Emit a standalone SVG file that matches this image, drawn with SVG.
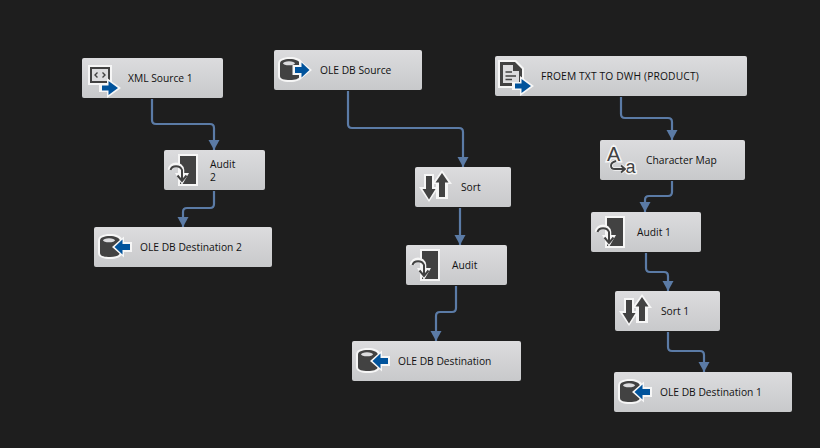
<svg xmlns="http://www.w3.org/2000/svg" width="820" height="448" viewBox="0 0 820 448">
<style>
.n{fill:url(#g)}
.t{font-family:"Open Sans","Noto Sans",sans-serif;font-size:10.25px;fill:#111}
.c{fill:none;stroke:#5b7ba6;stroke-width:2.200;marker-end:url(#a)}
.w{fill:#f6f6f6}
.d{fill:#424242}
.b{fill:#00539c}
.l{fill:#dcdcde}
</style>
<defs>
<linearGradient id="g" x1="0" y1="0" x2="0" y2="1"><stop offset="0" stop-color="#dcdcde"/><stop offset="1" stop-color="#c8c9cb"/></linearGradient>
<marker id="a" markerUnits="userSpaceOnUse" markerWidth="12" markerHeight="12" refX="10" refY="6" orient="auto"><path d="M0 0.500L10 6L0 11.500Z" fill="#5b7ba6"/></marker>
<g id="cyl">
<path class="w" d="M4 14C4 9 9 7 16 7C22 7 27 9 28 12V27C27 30 22 32 16 32C9 32 4 30 4 26Z"/>
<path class="d" d="M6 13.500C6 10.500 10 9 16 9C21 9 25 10.500 26 13.500V26C25 29 21 30 16 30C10 30 6 29 6 26Z"/>
<ellipse class="l" cx="15" cy="13.300" rx="6" ry="2"/>
</g>
<g id="outArrow"><path class="w" d="M18.500 15H25V9.500L38 20L25 30.500V25H18.500Z"/><path class="b" d="M21 17H27.500V12.500L35.500 20L27.500 27.500V23H21Z"/></g>
<g id="inArrow"><path class="w" d="M38 15H30V9.500L18 20L30 30.500V25H38Z"/><path class="b" d="M36 17H28.500V12.500L20.500 20L28.500 27.500V23H36Z"/></g>
<g id="docArrow"><path class="w" d="M17 26H25V20L39 30L25 40V34H17Z"/><path class="b" d="M20 27.500H26.500V23L36 30L26.500 37V32.500H20Z"/></g>
<g id="audit">
<rect class="w" x="14" y="4" width="20" height="32"/>
<rect class="d" x="16" y="6" width="16" height="28"/>
<path d="M6 20C7 13 17 13 18 20L18 27" fill="none" stroke="#f6f6f6" stroke-width="4.500"/>
<path class="w" d="M11 23L25 23L18 35Z"/>
<path d="M6.500 20C8 15 16 15 18 20L18 30" fill="none" stroke="#424242" stroke-width="2"/>
<path d="M13.500 25.500L18 31L22.500 25.500" fill="none" stroke="#424242" stroke-width="2"/>
</g>
<g id="sort">
<path class="w" d="M9 7H19V20H24L14 35L4 20H9Z"/>
<path class="d" d="M11 9H17V22H20.500L14 32.500L7.500 22H11Z"/>
<path class="w" d="M27 3L37 17H33V32H21V17H17Z"/>
<path class="d" d="M27 6L33.500 15.500H30V30H24V15.500H20.500Z"/>
</g>
</defs>
<rect width="820" height="448" fill="#1e1e1e"/>
<g id="connectors">
<path class="c" d="M152 99V120Q152 124 156 124H210Q214 124 214 128V150"/>
<path class="c" d="M214 191V204Q214 208 210 208H187Q183 208 183 212V227"/>
<path class="c" d="M348 91V124Q348 128 352 128H459Q463 128 463 132V167"/>
<path class="c" d="M460 208V245"/>
<path class="c" d="M456 286V308Q456 312 452 312H440Q436 312 436 316V341"/>
<path class="c" d="M621 97V114Q621 118 625 118H668Q672 118 672 122V140"/>
<path class="c" d="M672 181V192Q672 196 668 196H649Q645 196 645 200V212"/>
<path class="c" d="M646 253V268Q646 272 650 272H664Q668 272 668 276V291"/>
<path class="c" d="M668 332V347Q668 351 672 351H700Q704 351 704 355V372"/>
</g>
<g id="xml-source-1"><rect class="n" x="82" y="58" width="141" height="40" rx="2"/>
<rect class="w" x="88" y="65" width="24" height="20"/><rect class="d" x="90" y="67" width="20" height="16"/><rect class="l" x="92" y="69" width="16" height="12"/>
<path d="M97.500 72.500L95 75L97.500 77.500M102.500 72.500L105 75L102.500 77.500" fill="none" stroke="#424242" stroke-width="1.400"/>
<use href="#docArrow" x="82" y="58"/>
<text class="t" x="128" y="82">XML Source 1</text></g>
<g id="audit-2"><rect class="n" x="164" y="150" width="101" height="40" rx="2"/>
<use href="#audit" x="164" y="150"/>
<text class="t" x="210" y="168">Audit</text><text class="t" x="210" y="181">2</text></g>
<g id="ole-db-destination-2"><rect class="n" x="94" y="227" width="178" height="40" rx="2"/>
<use href="#cyl" x="94" y="227"/><use href="#inArrow" x="94" y="227"/>
<text class="t" x="140" y="251">OLE DB Destination 2</text></g>
<g id="ole-db-source"><rect class="n" x="274" y="50" width="148" height="40" rx="2"/>
<use href="#cyl" x="274" y="50"/><use href="#outArrow" x="274" y="50"/>
<text class="t" x="320" y="74">OLE DB Source</text></g>
<g id="sort-node"><rect class="n" x="415" y="167" width="96" height="40" rx="2"/>
<use href="#sort" x="415" y="167"/>
<text class="t" x="461" y="191">Sort</text></g>
<g id="audit-node"><rect class="n" x="406" y="245" width="101" height="40" rx="2"/>
<use href="#audit" x="406" y="245"/>
<text class="t" x="452" y="269">Audit</text></g>
<g id="ole-db-destination"><rect class="n" x="352" y="341" width="169" height="40" rx="2"/>
<use href="#cyl" x="352" y="341"/><use href="#inArrow" x="352" y="341"/>
<text class="t" x="398" y="365">OLE DB Destination</text></g>
<g id="froem-txt"><rect class="n" x="495" y="56" width="252" height="40" rx="2"/>
<path class="w" d="M498 60H516L524 68V88H498Z"/>
<path class="d" d="M500 62H515L522 69V86H500Z"/><path class="l" d="M503 65H513V71H519V83H503Z"/>
<path d="M505.500 72H512M505.500 76H516M505.500 79.500H512" stroke="#424242" stroke-width="1.500"/>
<use href="#docArrow" x="495" y="56"/>
<text class="t" x="541" y="80" letter-spacing="0.150">FROEM TXT TO DWH (PRODUCT)</text></g>
<g id="character-map"><rect class="n" x="600" y="140" width="145" height="40" rx="2"/>
<text x="607" y="161" font-family="'Liberation Sans',sans-serif" font-size="20" fill="#424242" stroke="#f6f6f6" stroke-width="3" paint-order="stroke">A</text>
<text x="625.500" y="173" font-family="'Liberation Sans',sans-serif" font-size="18" fill="#424242" stroke="#f6f6f6" stroke-width="3" paint-order="stroke">a</text>
<path d="M616 161C609 163 610 169 615 169H625M621 165.500L625 169L621 172.500" fill="none" stroke="#f6f6f6" stroke-width="3.500"/>
<path d="M616 161C609 163 610 169 615 169H625M621 165.500L625 169L621 172.500" fill="none" stroke="#424242" stroke-width="1.900"/>
<text class="t" x="646" y="164">Character Map</text></g>
<g id="audit-1"><rect class="n" x="591" y="212" width="110" height="40" rx="2"/>
<use href="#audit" x="591" y="212"/>
<text class="t" x="637" y="236">Audit 1</text></g>
<g id="sort-1"><rect class="n" x="615" y="291" width="105" height="40" rx="2"/>
<use href="#sort" x="615" y="291"/>
<text class="t" x="661" y="315">Sort 1</text></g>
<g id="ole-db-destination-1"><rect class="n" x="614" y="372" width="178" height="40" rx="2"/>
<use href="#cyl" x="614" y="372"/><use href="#inArrow" x="614" y="372"/>
<text class="t" x="660" y="396">OLE DB Destination 1</text></g>
</svg>
